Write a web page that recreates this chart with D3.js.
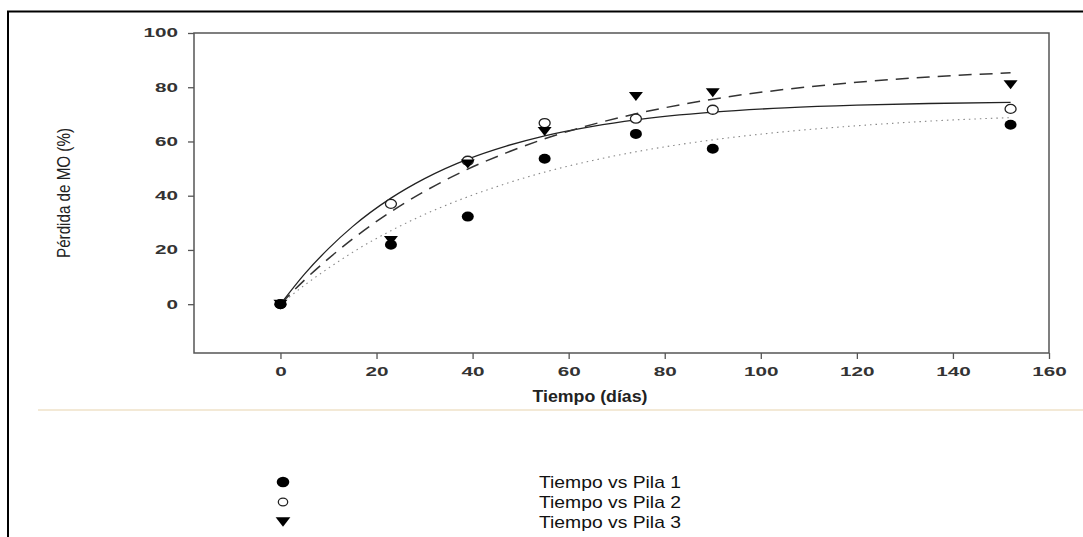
<!DOCTYPE html>
<html>
<head>
<meta charset="utf-8">
<script src="https://cdn.jsdelivr.net/npm/d3@7"></script>
<style>
  body { margin: 0; background: #fff; }
  svg { display: block; }
</style>
</head>
<body>
<svg id="chart" width="1083" height="537"></svg>
<script>
// measured points (days vs % organic matter loss)
var days = [0, 23, 39, 55, 74, 90, 152];
var pila1 = [0, 21.9, 32.3, 53.6, 62.8, 57.3, 66.2];
var pila2 = [0, 37.0, 52.9, 66.8, 68.4, 71.7, 72.0];
var pila3 = [0, 23.5, 51.7, 63.7, 76.6, 78.0, 80.9];

// fitted curves
var curveDays = [0, 5, 10, 15, 23, 30, 39, 47, 55, 65, 74, 90, 105, 120, 135, 152];
var fit1 = [0, 7.0, 13.3, 19.1, 27.1, 33.1, 39.6, 44.5, 48.7, 53.0, 56.2, 60.6, 63.6, 65.8, 67.5, 68.8];
var fit2 = [0, 11.1, 20.5, 28.6, 39.1, 46.3, 53.5, 58.3, 62.1, 65.6, 68.0, 70.8, 72.4, 73.4, 74.0, 74.4];
var fit3 = [0, 8.9, 16.8, 24.0, 34.1, 41.6, 49.8, 55.8, 61.0, 66.3, 70.2, 75.6, 79.2, 81.8, 83.8, 85.3];

var xTicks = [0, 20, 40, 60, 80, 100, 120, 140, 160];
var yTicks = [0, 20, 40, 60, 80, 100];
var legendLabels = ["Tiempo vs Pila 1", "Tiempo vs Pila 2", "Tiempo vs Pila 3"];

var svg = d3.select("#chart");

var x = d3.scaleLinear().domain([-18, 160]).range([194, 1049]);
var y = d3.scaleLinear().domain([-18, 100]).range([353, 33]);

// outer border (top + left)
svg.append("path")
    .attr("d", "M8,537V11.5H1083")
    .attr("fill", "none")
    .attr("stroke", "#000")
    .attr("stroke-width", 2);

// beige separator
svg.append("line")
    .attr("x1", 38).attr("x2", 1083)
    .attr("y1", 410).attr("y2", 410)
    .attr("stroke", "#efe2c9")
    .attr("stroke-width", 1.5);

var tickFont = "'Liberation Sans', Arial, sans-serif";

var xAxis = svg.append("g")
    .attr("transform", "translate(0," + y.range()[0] + ")")
    .call(d3.axisBottom(x).tickValues(xTicks).tickSize(6).tickPadding(8));
var yAxis = svg.append("g")
    .attr("transform", "translate(" + x.range()[0] + ",0)")
    .call(d3.axisLeft(y).tickValues(yTicks).tickSize(6).tickPadding(10));

[xAxis, yAxis].forEach(function(ax) {
    ax.select(".domain").remove();
    ax.selectAll(".tick line").attr("stroke", "#555").attr("stroke-width", 1.3);
    ax.selectAll(".tick text")
        .attr("fill", "#333")
        .style("font-family", tickFont)
        .style("font-size", "12px")
        .style("font-weight", "bold")
        .attr("textLength", function(d) { return String(d).length * 11.5; })
        .attr("lengthAdjust", "spacingAndGlyphs");
});

// frame
svg.append("rect")
    .attr("x", x.range()[0]).attr("y", y.range()[1])
    .attr("width", x.range()[1] - x.range()[0])
    .attr("height", y.range()[0] - y.range()[1])
    .attr("fill", "none")
    .attr("stroke", "#555")
    .attr("stroke-width", 1.5);

// axis titles
svg.append("text")
    .attr("x", 590).attr("y", 402)
    .attr("text-anchor", "middle")
    .attr("textLength", 115)
    .attr("lengthAdjust", "spacingAndGlyphs")
    .style("font-family", tickFont)
    .style("font-size", "16px")
    .style("font-weight", "bold")
    .attr("fill", "#222")
    .text("Tiempo (días)");

svg.append("text")
    .attr("transform", "translate(70,193) rotate(-90)")
    .attr("text-anchor", "middle")
    .attr("textLength", 130)
    .attr("lengthAdjust", "spacingAndGlyphs")
    .style("font-family", "'Liberation Sans Narrow', 'Liberation Sans', Arial, sans-serif")
    .style("font-size", "19px")
    .attr("fill", "#222")
    .text("Pérdida de MO (%)");

// fitted curves
var line = d3.line()
    .x(function(d) { return x(d[0]); })
    .y(function(d) { return y(d[1]); })
    .curve(d3.curveMonotoneX);

var fits = [
    {vals: fit1, stroke: "#888", width: 1.1, dash: "1.5,4"},
    {vals: fit2, stroke: "#222", width: 1.3, dash: null},
    {vals: fit3, stroke: "#333", width: 1.5, dash: "13,8"}
];
svg.selectAll(".fit")
    .data(fits).enter()
    .append("path")
    .attr("class", "fit")
    .attr("d", function(f) { return line(d3.zip(curveDays, f.vals)); })
    .attr("fill", "none")
    .attr("stroke", function(f) { return f.stroke; })
    .attr("stroke-width", function(f) { return f.width; })
    .attr("stroke-dasharray", function(f) { return f.dash; });

// markers
function drawMarker(g, kind, cx, cy, s) {
    if (kind === 0) {
        g.append("ellipse").attr("cx", cx).attr("cy", cy)
            .attr("rx", 6 * s).attr("ry", 5 * s).attr("fill", "#000");
    } else if (kind === 1) {
        g.append("ellipse").attr("cx", cx).attr("cy", cy)
            .attr("rx", 5.5 * s).attr("ry", 4.5 * s)
            .attr("fill", "#fff").attr("stroke", "#222").attr("stroke-width", 1.3);
    } else {
        var w = 7 * s, h = 9 * s;
        g.append("path")
            .attr("d", "M" + (cx - w) + "," + (cy - h / 2) + "L" + (cx + w) + "," + (cy - h / 2) + "L" + cx + "," + (cy + h / 2) + "Z")
            .attr("fill", "#000");
    }
}

var series = [pila1, pila2, pila3];
var marks = svg.append("g");
[1, 2, 0].forEach(function(k) {
    series[k].forEach(function(v, i) {
        drawMarker(marks, k, x(days[i]), y(v), 1);
    });
});

// legend
var legend = svg.append("g");
legendLabels.forEach(function(label, i) {
    var ly = 482 + i * 20;
    drawMarker(legend, i, 283, ly, i === 1 ? 0.85 : 1.05);
    legend.append("text")
        .attr("x", 539).attr("y", ly + 6)
        .attr("textLength", 142)
        .attr("lengthAdjust", "spacingAndGlyphs")
        .style("font-family", tickFont)
        .style("font-size", "17px")
        .attr("fill", "#111")
        .text(label);
});
</script>
</body>
</html>
